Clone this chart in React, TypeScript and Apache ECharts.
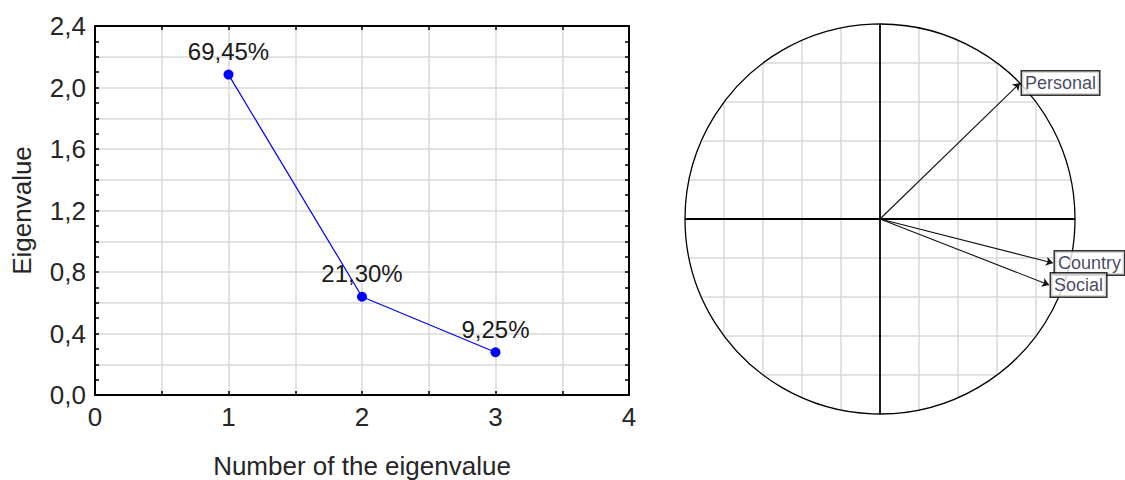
import React, { useEffect, useRef } from "react";
import * as echarts from "echarts";

// ---- Data: scree plot ----
const eigenNumbers = [1, 2, 3];
const eigenValues = [2.084, 0.639, 0.278];
const eigenPercents = ["69,45%", "21,30%", "9,25%"];

// ---- Data: factor loadings (circle of correlations) ----
const variableNames = ["Personal", "Country", "Social"];
const factor1 = [0.718, 0.887, 0.867];
const factor2 = [0.697, -0.226, -0.338];

// grid values drawn inside the unit circle
const circleGridValues = [-0.8, -0.6, -0.4, -0.2, 0.2, 0.4, 0.6, 0.8];

const FONT = "'Liberation Sans', Arial, sans-serif";
const TEXT = "#262626";

export default function App() {
  const ref = useRef<HTMLDivElement>(null);

  useEffect(() => {
    document.body.style.margin = "0";
    const chart = echarts.init(ref.current!, null, { renderer: "svg" });

    const fmtComma = (v: number, digits: number) => v.toFixed(digits).replace(".", ",");
    const axisLine = () => ({ show: true, onZero: false, lineStyle: { color: "#000", width: 2 } });
    const tick = () => ({ show: true, inside: true, length: 4, lineStyle: { color: "#000", width: 1.5 } });
    const minor = () => ({ show: true, splitNumber: 2, length: 4, lineStyle: { color: "#000", width: 1.5 } });

    const option: any = {
      animation: false,
      backgroundColor: "#ffffff",
      textStyle: { fontFamily: FONT },
      grid: [
        { left: 95, top: 26, width: 534, height: 369, containLabel: false, outerBoundsMode: "none" },
        { left: 685, top: 24, width: 390, height: 390, containLabel: false, outerBoundsMode: "none" },
      ],
      xAxis: [
        {
          type: "value",
          gridIndex: 0,
          min: 0,
          max: 4,
          interval: 0.5,
          position: "bottom",
          axisLine: axisLine(),
          axisTick: tick(),
          axisLabel: {
            show: true,
            margin: 9,
            fontSize: 26,
            fontFamily: FONT,
            color: TEXT,
            formatter: (v: number) => (Math.abs(v - Math.round(v)) < 1e-6 ? String(Math.round(v)) : ""),
          },
          splitLine: { show: true, lineStyle: { color: "#d9d9d9", width: 1.5 } },
          name: "Number of the eigenvalue",
          nameLocation: "middle",
          nameGap: 58,
          nameTextStyle: { fontSize: 26, fontFamily: FONT, color: TEXT },
        },
        {
          type: "value",
          gridIndex: 0,
          min: 0,
          max: 4,
          interval: 0.5,
          position: "top",
          axisLine: axisLine(),
          axisTick: tick(),
          axisLabel: { show: false },
          splitLine: { show: false },
        },
        { type: "value", gridIndex: 1, min: -1, max: 1, show: false, splitLine: { show: false } },
      ],
      yAxis: [
        {
          type: "value",
          gridIndex: 0,
          min: 0,
          max: 2.4,
          interval: 0.2,
          position: "left",
          axisLine: axisLine(),
          axisTick: tick(),
          minorTick: minor(),
          axisLabel: {
            show: true,
            margin: 9,
            fontSize: 26,
            fontFamily: FONT,
            color: TEXT,
            formatter: (v: number) => (Math.round(v * 10) % 4 === 0 ? fmtComma(v, 1) : ""),
          },
          splitLine: { show: true, lineStyle: { color: "#d9d9d9", width: 1.5 } },
          name: "Eigenvalue",
          nameLocation: "middle",
          nameGap: 60,
          nameTextStyle: { fontSize: 26, fontFamily: FONT, color: TEXT },
        },
        {
          type: "value",
          gridIndex: 0,
          min: 0,
          max: 2.4,
          interval: 0.2,
          position: "right",
          axisLine: axisLine(),
          axisTick: tick(),
          minorTick: minor(),
          axisLabel: { show: false },
          splitLine: { show: false },
        },
        { type: "value", gridIndex: 1, min: -1, max: 1, show: false, splitLine: { show: false } },
      ],
      series: [
        {
          type: "line",
          xAxisIndex: 0,
          yAxisIndex: 0,
          data: eigenNumbers.map((n, i) => [n, eigenValues[i]]),
          symbol: "circle",
          symbolSize: 10,
          itemStyle: { color: "#0000ff" },
          lineStyle: { color: "#0000ff", width: 1.2 },
          label: {
            show: true,
            position: "top",
            distance: 6,
            fontSize: 24,
            fontFamily: FONT,
            color: "#1a1a1a",
            formatter: (p: any) => eigenPercents[p.dataIndex],
          },
          z: 5,
        },
        {
          type: "custom",
          coordinateSystem: "cartesian2d",
          xAxisIndex: 2,
          yAxisIndex: 2,
          silent: true,
          clip: false,
          data: [[0, 0]],
          renderItem: (_params: any, api: any) => {
            const c = api.coord([0, 0]);
            const r = api.coord([1, 0])[0] - c[0];
            const children: any[] = [];
            circleGridValues.forEach((v) => {
              const h = Math.sqrt(1 - v * v);
              const a = api.coord([v, -h]);
              const b = api.coord([v, h]);
              children.push({
                type: "line",
                shape: { x1: a[0], y1: a[1], x2: b[0], y2: b[1] },
                style: { stroke: "#d9d9d9", lineWidth: 1.5 },
              });
              const d = api.coord([-h, v]);
              const e = api.coord([h, v]);
              children.push({
                type: "line",
                shape: { x1: d[0], y1: d[1], x2: e[0], y2: e[1] },
                style: { stroke: "#d9d9d9", lineWidth: 1.5 },
              });
            });
            const l = api.coord([-1, 0]);
            const rr = api.coord([1, 0]);
            const t = api.coord([0, 1]);
            const bt = api.coord([0, -1]);
            children.push({
              type: "line",
              shape: { x1: l[0], y1: l[1], x2: rr[0], y2: rr[1] },
              style: { stroke: "#000", lineWidth: 1.8 },
            });
            children.push({
              type: "line",
              shape: { x1: t[0], y1: t[1], x2: bt[0], y2: bt[1] },
              style: { stroke: "#000", lineWidth: 1.8 },
            });
            children.push({
              type: "circle",
              shape: { cx: c[0], cy: c[1], r },
              style: { fill: "none", stroke: "#000", lineWidth: 1.3 },
            });
            return { type: "group", children };
          },
          z: 1,
        },
        {
          type: "lines",
          coordinateSystem: "cartesian2d",
          xAxisIndex: 2,
          yAxisIndex: 2,
          silent: true,
          symbol: ["none", "arrow"],
          symbolSize: [0, 7],
          lineStyle: { color: "#111", width: 1.1, opacity: 1 },
          data: variableNames.map((_n, i) => ({ coords: [[0, 0], [factor1[i], factor2[i]]] })),
          z: 3,
        },
        {
          type: "scatter",
          xAxisIndex: 2,
          yAxisIndex: 2,
          silent: true,
          symbolSize: 0,
          data: variableNames.map((n, i) => [factor1[i], factor2[i], n]),
          label: {
            show: true,
            position: "right",
            distance: 2,
            formatter: (p: any) => p.data[2],
            fontSize: 18,
            fontFamily: FONT,
            color: "#15153a",
            backgroundColor: "#ffffff",
            borderColor: "#000",
            borderWidth: 1.5,
            padding: [3, 3, 2, 3],
          },
          z: 4,
        },
      ],
    };

    chart.setOption(option);
    return () => chart.dispose();
  }, []);

  return <div ref={ref} style={{ width: 1125, height: 480 }} />;
}
